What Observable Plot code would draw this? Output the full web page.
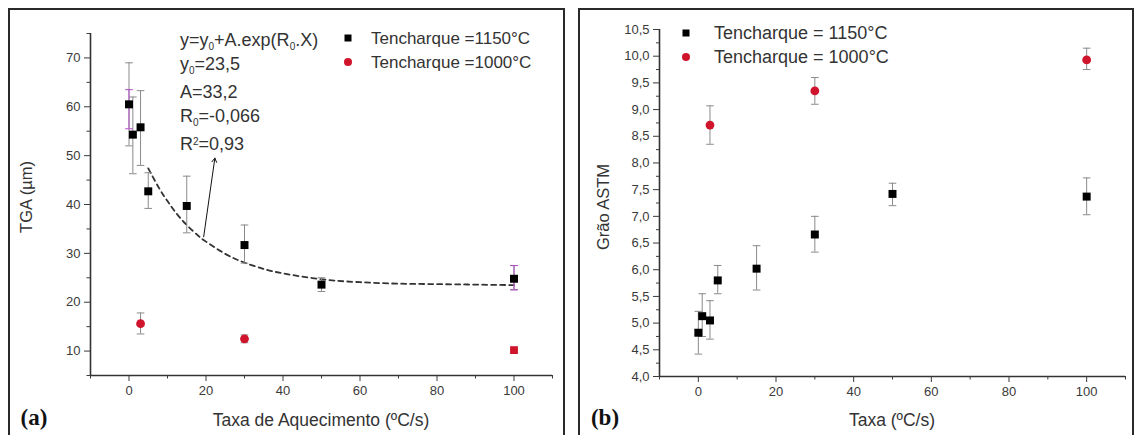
<!DOCTYPE html>
<html>
<head>
<meta charset="utf-8">
<script src="https://cdn.jsdelivr.net/npm/d3@7"></script>
<script src="https://cdn.jsdelivr.net/npm/@observablehq/plot@0.6"></script>
<style>
  body { margin: 0; background: #fff; }
  #wrap { position: relative; width: 1134px; height: 435px; overflow: hidden; background: #fff;
          font-family: Arial, "Liberation Sans", sans-serif; color: #222; }
  .border { position: absolute; border: 2.5px solid #2a2a2a; box-sizing: border-box; }
  .plot { position: absolute; top: 0; }
  .txt { position: absolute; white-space: nowrap; line-height: 1; }
  .center { transform: translate(-50%, -50%); }
  .midy { transform: translateY(-50%); }
  .vert { transform: translate(-50%, -50%) rotate(-90deg); }
  .panelTag { font-family: "Liberation Serif", "Times New Roman", serif; font-weight: bold; font-size: 23px; color: #111; }
  .axTitle { font-size: 16.5px; color: #333; }
  .axTitleX { font-size: 17.5px; color: #333; }
  .legA { font-size: 17px; color: #333; }
  .legB { font-size: 18px; color: #333; }
  .sq { position: absolute; width: 7px; height: 7px; background: #000; transform: translate(-50%, -50%); }
  .ci { position: absolute; width: 8px; height: 8px; background: #d0142c; border-radius: 50%; transform: translate(-50%, -50%); }
  .eq { font-size: 18px; color: #333; }
  .eq sub, .eq sup { font-size: 10px; line-height: 0; position: relative; vertical-align: baseline; }
  .eq sub { top: 0.35em; }
  .eq sup { top: -0.55em; }
</style>
</head>
<body>
<div id="wrap">
  <div class="border" style="left:8px; top:8px; width:557px; height:440px;"></div>
  <div class="border" style="left:578px; top:8px; width:556px; height:440px;"></div>
  <div id="pa" class="plot" style="left:0px;"></div>
  <div id="pb" class="plot" style="left:566px;"></div>

  <!-- panel (a) texts -->
  <div class="txt vert axTitle" style="left:26px; top:197px;">TGA (µm)</div>
  <div class="txt center axTitleX" style="left:321px; top:421px;">Taxa de Aquecimento (ºC/s)</div>
  <div class="txt center panelTag" style="left:34px; top:417px;">(a)</div>
  <div class="txt midy eq" style="left:180px; top:40px;">y=y<sub>0</sub>+A.exp(R<sub>0</sub>.X)</div>
  <div class="txt midy eq" style="left:180px; top:64px;">y<sub>0</sub>=23,5</div>
  <div class="txt midy eq" style="left:180px; top:92px;">A=33,2</div>
  <div class="txt midy eq" style="left:180px; top:116px;">R<sub>0</sub>=-0,066</div>
  <div class="txt midy eq" style="left:180px; top:144px;">R<sup>2</sup>=0,93</div>
  <div class="sq" style="left:348px; top:38px;"></div>
  <div class="ci" style="left:348px; top:62px;"></div>
  <div class="txt midy legA" style="left:371px; top:38px;">Tencharque =1150°C</div>
  <div class="txt midy legA" style="left:371px; top:62px;">Tencharque =1000°C</div>

  <!-- panel (b) texts -->
  <div class="txt vert axTitle" style="left:603px; top:207px;">Grão ASTM</div>
  <div class="txt center axTitleX" style="left:892px; top:421px;">Taxa (ºC/s)</div>
  <div class="txt center panelTag" style="left:605px; top:417px;">(b)</div>
  <div class="sq" style="left:686px; top:33px;"></div>
  <div class="ci" style="left:686px; top:57px;"></div>
  <div class="txt midy legB" style="left:714px; top:33px;">Tencharque = 1150°C</div>
  <div class="txt midy legB" style="left:714px; top:57px;">Tencharque = 1000°C</div>
</div>
<script>
// ---------------- Panel (a) data: TGA (µm) vs heating rate ----------------
const rateA1150 = [0, 1, 3, 5, 15, 30, 50, 100];
const tgaA1150 = [60.5, 54.3, 55.8, 42.7, 39.7, 31.7, 23.6, 24.8];
const tgaA1150Lo = [52.0, 46.3, 48.0, 39.2, 34.2, 28.0, 22.2, 22.6];
const tgaA1150Hi = [69.0, 62.0, 63.3, 46.5, 45.8, 35.8, 25.0, 27.5];

const rateA1000 = [3, 30, 100];
const tgaA1000 = [15.6, 12.5, 10.2];
const tgaA1000Lo = [13.5, 11.7, 10.2];
const tgaA1000Hi = [17.8, 13.3, 10.2];
const symA1000 = ["circle", "circle", "square"];

// purple (overlapping) error bars seen at 0 and 100
const ratePurple = [0, 100];
const tgaPurpleLo = [55.5, 22.5];
const tgaPurpleHi = [63.5, 27.5];

// dashed fitted curve
const fitRate = [5, 8, 10, 12, 15, 18, 20, 25, 30, 35, 40, 50, 60, 70, 80, 90, 100];
const fitTga = [47.4, 43.1, 40.7, 38.5, 35.8, 33.6, 32.4, 29.9, 28.1, 26.8, 25.9, 24.7, 24.1, 23.8, 23.7, 23.6, 23.5];

// arrow from the curve to the R² label
const arrowA = [{ x1: 19.4, y1: 33.4, x2: 22.3, y2: 49.5 }];

const xTicksMajor = [0, 20, 40, 60, 80, 100];
const xTicksMinor = [-10, 10, 30, 50, 70, 90, 110];
const yTicksMajorA = [10, 20, 30, 40, 50, 60, 70];
const yTicksMinorA = [5, 15, 25, 35, 45, 55, 65, 75];

// ---------------- Panel (b) data: ASTM grain size vs rate ----------------
const rateB1150 = [0, 1, 3, 5, 15, 30, 50, 100];
const grainB1150 = [4.82, 5.13, 5.05, 5.80, 6.02, 6.66, 7.42, 7.37];
const grainB1150Lo = [4.42, 4.75, 4.70, 5.55, 5.62, 6.33, 7.20, 7.03];
const grainB1150Hi = [5.22, 5.55, 5.42, 6.08, 6.45, 7.00, 7.62, 7.72];

const rateB1000 = [3, 30, 100];
const grainB1000 = [8.71, 9.35, 9.93];
const grainB1000Lo = [8.35, 9.10, 9.75];
const grainB1000Hi = [9.07, 9.60, 10.15];

const yTicksMajorB = [4.0, 4.5, 5.0, 5.5, 6.0, 6.5, 7.0, 7.5, 8.0, 8.5, 9.0, 9.5, 10.0, 10.5];
const yTicksMinorB = [4.25, 4.75, 5.25, 5.75, 6.25, 6.75, 7.25, 7.75, 8.25, 8.75, 9.25, 9.75, 10.25];

// ---------------- helpers ----------------
const BLACK = "#000000";
const RED = "#d0142c";
const ERR = "#8a8a8a";
const PURPLE = "#b04cc8";

const capSymbol = {
  draw(ctx, size) {
    const r = Math.sqrt(size / Math.PI);
    ctx.moveTo(-r, 0);
    ctx.lineTo(r, 0);
  }
};

function rows(xs, ys, lo, hi, sym) {
  return xs.map((x, i) => ({
    x,
    y: ys ? ys[i] : undefined,
    lo: lo ? lo[i] : undefined,
    hi: hi ? hi[i] : undefined,
    sym: sym ? sym[i] : undefined
  }));
}

function errorMarks(data, color) {
  return [
    Plot.ruleX(data, { x: "x", y1: "lo", y2: "hi", stroke: color, strokeWidth: 1 }),
    Plot.dot(data, { x: "x", y: "lo", symbol: capSymbol, r: 3.8, stroke: color, strokeWidth: 1 }),
    Plot.dot(data, { x: "x", y: "hi", symbol: capSymbol, r: 3.8, stroke: color, strokeWidth: 1 })
  ];
}

const baseStyle = {
  fontFamily: "Arial, 'Liberation Sans', sans-serif",
  fontSize: "13px",
  color: "#3a3a3a",
  background: "transparent",
  overflow: "visible"
};

// ---------------- Panel (a) ----------------
const a1150 = rows(rateA1150, tgaA1150, tgaA1150Lo, tgaA1150Hi);
const a1000 = rows(rateA1000, tgaA1000, tgaA1000Lo, tgaA1000Hi, symA1000);
const aPurple = rows(ratePurple, null, tgaPurpleLo, tgaPurpleHi);
const aFit = rows(fitRate, fitTga);

const plotA = Plot.plot({
  width: 566,
  height: 435,
  marginLeft: 90,
  marginRight: 14,
  marginTop: 33,
  marginBottom: 60,
  x: { domain: [-10, 110] },
  y: { domain: [5, 75] },
  symbol: { domain: ["circle", "square"], range: ["circle", "square"] },
  style: baseStyle,
  marks: [
    Plot.ruleX([-10], { stroke: "#333", strokeWidth: 1.6 }),
    Plot.ruleY([5], { stroke: "#333", strokeWidth: 1.6 }),
    Plot.axisX(xTicksMajor, { tickSize: 6, tickPadding: 4, label: null, tickFormat: d => String(d) }),
    Plot.axisX(xTicksMinor, { tickSize: 3.5, label: null, tickFormat: () => "" }),
    Plot.axisY(yTicksMajorA, { tickSize: 6, tickPadding: 4, label: null, tickFormat: d => String(d) }),
    Plot.axisY(yTicksMinorA, { tickSize: 3.5, label: null, tickFormat: () => "" }),
    Plot.line(aFit, { x: "x", y: "y", stroke: "#333", strokeWidth: 1.8, strokeDasharray: "5,4", curve: "natural" }),
    Plot.arrow(arrowA, { x1: "x1", y1: "y1", x2: "x2", y2: "y2", stroke: "#111", strokeWidth: 1, headLength: 7 }),
    ...errorMarks(a1150, ERR),
    ...errorMarks(a1000, ERR),
    ...errorMarks(aPurple, PURPLE),
    Plot.dot(a1150, { x: "x", y: "y", symbol: "square", r: 4.5, fill: BLACK }),
    Plot.dot(a1000, { x: "x", y: "y", symbol: "sym", r: 4.4, fill: RED })
  ]
});
document.getElementById("pa").appendChild(plotA);

// ---------------- Panel (b) ----------------
const b1150 = rows(rateB1150, grainB1150, grainB1150Lo, grainB1150Hi);
const b1000 = rows(rateB1000, grainB1000, grainB1000Lo, grainB1000Hi);

const plotB = Plot.plot({
  width: 568,
  height: 435,
  marginLeft: 93,
  marginRight: 9,
  marginTop: 29,
  marginBottom: 59,
  x: { domain: [-10, 110] },
  y: { domain: [4.0, 10.5] },
  style: baseStyle,
  marks: [
    Plot.ruleX([-10], { stroke: "#333", strokeWidth: 1.6 }),
    Plot.ruleY([4.0], { stroke: "#333", strokeWidth: 1.6 }),
    Plot.axisX(xTicksMajor, { tickSize: 6, tickPadding: 4, label: null, tickFormat: d => String(d) }),
    Plot.axisX(xTicksMinor, { tickSize: 3.5, label: null, tickFormat: () => "" }),
    Plot.axisY(yTicksMajorB, { tickSize: 6, tickPadding: 4, label: null, tickFormat: d => d.toFixed(1).replace(".", ",") }),
    Plot.axisY(yTicksMinorB, { tickSize: 3, label: null, tickFormat: () => "" }),
    ...errorMarks(b1150, ERR),
    ...errorMarks(b1000, ERR),
    Plot.dot(b1150, { x: "x", y: "y", symbol: "square", r: 4.5, fill: BLACK }),
    Plot.dot(b1000, { x: "x", y: "y", symbol: "circle", r: 4.4, fill: RED })
  ]
});
document.getElementById("pb").appendChild(plotB);
</script>
</body>
</html>
